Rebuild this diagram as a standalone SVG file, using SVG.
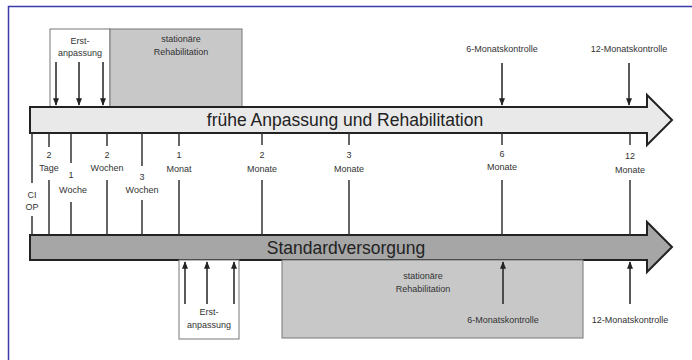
<svg xmlns="http://www.w3.org/2000/svg" width="692" height="360" viewBox="0 0 692 360">
<defs>
<marker id="ah" viewBox="0 0 10 10" refX="9" refY="5" markerWidth="5" markerHeight="5" orient="auto"><path d="M0,1 L10,5 L0,9 z" fill="#222"/></marker>
<style>
.s{font-family:"Liberation Sans",Arial,sans-serif;font-size:9px;fill:#333;text-anchor:middle}
.t{font-family:"Liberation Sans",Arial,sans-serif;font-size:17.5px;fill:#222;text-anchor:middle}
.box{stroke:#777;stroke-width:1}
.arr{stroke:#222;stroke-width:1.5;fill:none;marker-end:url(#ah)}
.tick{stroke:#333;stroke-width:1.5}
.big{stroke:#222;stroke-width:2}
</style>
</defs>
<rect width="692" height="360" fill="#fff"/>
<path d="M8.5,360 V6.5 H692" fill="none" stroke="#3a3aa8" stroke-width="1.5"/>

<g id="top-erstanpassung">
<rect class="box" x="50" y="29" width="60" height="78" fill="#fff"/>
<text class="s" x="80" y="44">Erst-</text>
<text class="s" x="80" y="56">anpassung</text>
<line class="arr" x1="56" y1="62" x2="56" y2="105"/>
<line class="arr" x1="79" y1="62" x2="79" y2="105"/>
<line class="arr" x1="103" y1="62" x2="103" y2="105"/>
</g>
<g id="top-stationaer">
<rect class="box" x="110" y="29" width="132" height="78" fill="#c8c8c8"/>
<text class="s" x="181" y="42">stationäre</text>
<text class="s" x="181" y="55">Rehabilitation</text>
</g>
<g id="top-6mk">
<text class="s" x="502" y="52">6-Monatskontrolle</text>
<line class="arr" x1="502" y1="63" x2="502" y2="105"/>
</g>
<g id="top-12mk">
<text class="s" x="629" y="52">12-Monatskontrolle</text>
<line class="arr" x1="629" y1="63" x2="629" y2="105"/>
</g>

<g id="arrow-top">
<path class="big" d="M30,107 H647 V95 L672,120 L647,145 V133 H30 Z" fill="#e9e9e9"/>
<text class="t" x="345" y="126">frühe Anpassung und Rehabilitation</text>
</g>

<g id="arrow-bottom">
<path class="big" d="M30,235 H647 V222 L672,247 L647,272 V260 H30 Z" fill="#a6a6a6"/>
<text class="t" x="346" y="253.5">Standardversorgung</text>
</g>

<g id="timeline">
<line class="tick" x1="32" y1="133" x2="32" y2="183"/><line class="tick" x1="32" y1="216" x2="32" y2="235"/>
<text class="s" x="32" y="198">CI</text><text class="s" x="32" y="210">OP</text>
<line class="tick" x1="49" y1="133" x2="49" y2="147"/><line class="tick" x1="49" y1="180" x2="49" y2="235"/>
<text class="s" x="49" y="158">2</text><text class="s" x="49" y="171">Tage</text>
<line class="tick" x1="71" y1="133" x2="71" y2="163"/><line class="tick" x1="71" y1="202" x2="71" y2="235"/>
<text class="s" x="71" y="178">1</text><text class="s" x="73" y="193">Woche</text>
<line class="tick" x1="107" y1="133" x2="107" y2="146"/><line class="tick" x1="107" y1="180" x2="107" y2="235"/>
<text class="s" x="107" y="158">2</text><text class="s" x="107" y="171">Wochen</text>
<line class="tick" x1="142" y1="133" x2="142" y2="166"/><line class="tick" x1="142" y1="200" x2="142" y2="235"/>
<text class="s" x="142" y="180">3</text><text class="s" x="142" y="193">Wochen</text>
<line class="tick" x1="179" y1="133" x2="179" y2="146"/><line class="tick" x1="179" y1="180" x2="179" y2="235"/>
<text class="s" x="179" y="158">1</text><text class="s" x="179" y="172">Monat</text>
<line class="tick" x1="262" y1="133" x2="262" y2="145"/><line class="tick" x1="262" y1="180" x2="262" y2="235"/>
<text class="s" x="262" y="158">2</text><text class="s" x="262" y="172">Monate</text>
<line class="tick" x1="349" y1="133" x2="349" y2="145"/><line class="tick" x1="349" y1="180" x2="349" y2="235"/>
<text class="s" x="349" y="158">3</text><text class="s" x="349" y="172">Monate</text>
<line class="tick" x1="502" y1="133" x2="502" y2="145"/><line class="tick" x1="502" y1="180" x2="502" y2="235"/>
<text class="s" x="502" y="157">6</text><text class="s" x="502" y="170">Monate</text>
<line class="tick" x1="630" y1="133" x2="630" y2="145"/><line class="tick" x1="630" y1="180" x2="630" y2="235"/>
<text class="s" x="630" y="159">12</text><text class="s" x="630" y="173">Monate</text>
</g>

<g id="bottom-erstanpassung">
<rect class="box" x="179" y="260" width="60" height="79" fill="#fff"/>
<line class="arr" x1="185" y1="304" x2="185" y2="262"/>
<line class="arr" x1="207" y1="304" x2="207" y2="262"/>
<line class="arr" x1="234" y1="304" x2="234" y2="262"/>
<text class="s" x="209" y="315">Erst-</text>
<text class="s" x="209" y="328">anpassung</text>
</g>
<g id="bottom-stationaer">
<rect class="box" x="282" y="260" width="301" height="78" fill="#c8c8c8"/>
<text class="s" x="423" y="279">stationäre</text>
<text class="s" x="423" y="292">Rehabilitation</text>
</g>
<g id="bottom-6mk">
<line class="arr" x1="503" y1="304" x2="503" y2="262"/>
<text class="s" x="503" y="323">6-Monatskontrolle</text>
</g>
<g id="bottom-12mk">
<line class="arr" x1="630" y1="304" x2="630" y2="262"/>
<text class="s" x="630" y="323">12-Monatskontrolle</text>
</g>
</svg>
